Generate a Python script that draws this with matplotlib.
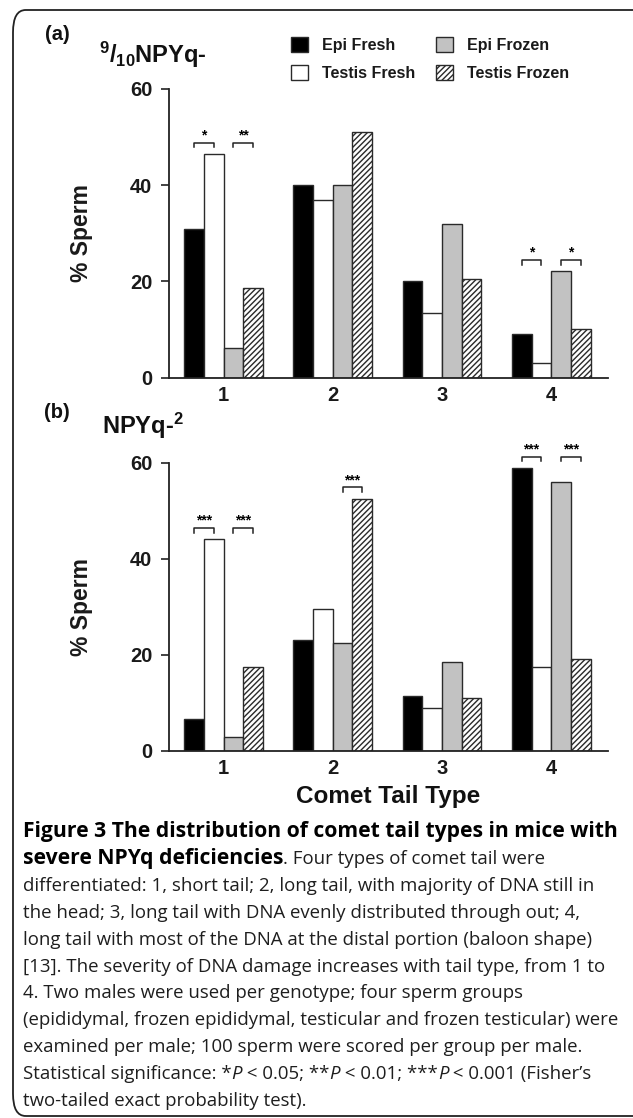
import matplotlib
matplotlib.use('Agg')
import matplotlib.pyplot as plt
from matplotlib.patches import FancyBboxPatch
from matplotlib.font_manager import FontProperties

# ---------------- data ----------------
tail_types = [1, 2, 3, 4]
tick_labels = ['1', '2', '3', '4']
series_names = ['Epi Fresh', 'Testis Fresh', 'Epi Frozen', 'Testis Frozen']
yticks = [0, 20, 40, 60]

a_epi_fresh = [31.0, 40.0, 20.0, 9.1]
a_testis_fresh = [46.5, 37.0, 13.5, 3.0]
a_epi_frozen = [6.1, 40.0, 32.0, 22.1]
a_testis_frozen = [18.6, 51.1, 20.6, 10.1]

b_epi_fresh = [6.6, 23.1, 11.5, 59.0]
b_testis_fresh = [44.1, 29.5, 8.9, 17.4]
b_epi_frozen = [3.0, 22.4, 18.5, 56.1]
b_testis_frozen = [17.4, 52.6, 11.0, 19.1]

# significance: (tail type, pair: 0 = epi vs testis fresh, 1 = epi vs testis frozen, stars)
a_sig = [(1, 0, '*'), (1, 1, '**'), (4, 0, '*'), (4, 1, '*')]
b_sig = [(1, 0, '***'), (1, 1, '***'), (2, 1, '***'), (4, 0, '***'), (4, 1, '***')]

# ---------------- style ----------------
W, H = 633, 1118
plt.rcParams['hatch.linewidth'] = 1.0
plt.rcParams['mathtext.fontset'] = 'custom'
plt.rcParams['mathtext.rm'] = 'Liberation Sans:bold'
plt.rcParams['mathtext.bf'] = 'Liberation Sans:bold'
plt.rcParams['mathtext.it'] = 'Liberation Sans:bold'
CF = 'Liberation Sans'
fills = ['black', 'white', '#c2c2c2', 'white']
hatches = [None, None, None, '//////']
edge = '#2a2a2a'
bar_w = 0.18

fig = plt.figure(figsize=(W / 100, H / 100), dpi=100)


def rect(l, t, r, b):
    return [l / W, 1 - b / H, (r - l) / W, (b - t) / H]


# border frame
frame = FancyBboxPatch((13 / W, 2 / H), 700 / W, 1106 / H,
                       boxstyle='round,pad=0,rounding_size=0.02',
                       transform=fig.transFigure, facecolor='none',
                       edgecolor='#222222', linewidth=1.3, clip_on=False)
fig.patches.append(frame)


def panel(box, series, sig, title, plabel, title_xy, plabel_xy):
    ax = fig.add_axes(rect(*box))
    containers = []
    for i, vals in enumerate(series):
        xs = [t + (i - 1.5) * bar_w for t in tail_types]
        c = ax.bar(xs, vals, width=bar_w, color=fills[i], hatch=hatches[i],
                   edgecolor=edge, linewidth=1.0, label=series_names[i], zorder=2)
        containers.append(c)
    ax.set_xlim(0.5, 4.52)
    ax.set_ylim(0, 60)
    ax.set_yticks(yticks)
    ax.set_xticks(tail_types)
    ax.set_xticklabels(tick_labels)
    for s in ['top', 'right']:
        ax.spines[s].set_visible(False)
    for s in ['left', 'bottom']:
        ax.spines[s].set_linewidth(1.3)
        ax.spines[s].set_color('#222222')
    ax.tick_params(axis='y', direction='out', length=6, width=1.2, pad=6,
                   labelsize=14.5, color='#222222')
    ax.tick_params(axis='x', length=0, pad=6, labelsize=14.5)
    for lab in ax.get_xticklabels() + ax.get_yticklabels():
        lab.set_fontweight('bold')
        lab.set_family(CF)
        lab.set_color('#1a1a1a')
    ax.set_ylabel('% Sperm', fontsize=16.5, fontweight='bold', family=CF, color='#1a1a1a')
    ax.yaxis.set_label_coords(-0.173, 0.5)
    # significance brackets
    for t, p, stars in sig:
        gi = tail_types.index(t)
        level = max(s[gi] for s in series) + 2.3
        x1 = t + (2 * p - 1.5) * bar_w
        x2 = x1 + bar_w
        ax.plot([x1, x1, x2, x2], [level - 0.9, level, level, level - 0.9],
                color='#222222', lw=1.1, clip_on=False, zorder=3)
        ax.text((x1 + x2) / 2, level + 0.1, stars, ha='center', va='bottom',
                fontsize=10, fontweight='bold', family=CF, clip_on=False)
    fig.text(title_xy[0] / W, 1 - title_xy[1] / H, title, fontsize=17,
             fontweight='bold', family=CF, ha='left', va='baseline', color='#111111')
    fig.text(plabel_xy[0] / W, 1 - plabel_xy[1] / H, plabel, fontsize=14.5,
             fontweight='bold', family=CF, ha='center', va='center', color='#111111')
    return ax, containers


ax_a, cont_a = panel((169, 89, 608, 377.7),
                     [a_epi_fresh, a_testis_fresh, a_epi_frozen, a_testis_frozen],
                     a_sig, r'$^{9}/_{10}$NPYq-', '(a)', (99, 63), (57, 35))
ax_b, cont_b = panel((169, 463, 608, 751),
                     [b_epi_fresh, b_testis_fresh, b_epi_frozen, b_testis_frozen],
                     b_sig, r'NPYq-$^{2}$', '(b)', (102, 434), (57, 412))

leg = ax_a.legend(handles=cont_a, ncol=2, loc='upper left',
                  bbox_to_anchor=(291 / W, 1 - 37 / H), bbox_transform=fig.transFigure,
                  frameon=False, borderpad=0, borderaxespad=0, handlelength=1.05,
                  handleheight=1.05, handletextpad=0.9, columnspacing=1.3,
                  labelspacing=0.75, prop=FontProperties(family=CF, weight='bold', size=11.5))
for t in leg.get_texts():
    t.set_color('#1a1a1a')

fig.text(388 / W, 1 - 797 / H, 'Comet Tail Type', fontsize=17.5, fontweight='bold',
         family=CF, ha='center', va='center', color='#111111')

# ---------------- caption ----------------
CAP = 'Open Sans'
renderer = fig.canvas.get_renderer()


def text_w(s, size, weight='normal', style='normal'):
    fp = FontProperties(family=CAP, size=size, weight=weight, style=style)
    w_bar = renderer.get_text_width_height_descent('|', fp, ismath=False)[0]
    w = renderer.get_text_width_height_descent('|' + s + '|', fp, ismath=False)[0]
    return w - 2 * w_bar


ref_line = '(epididymal, frozen epididymal, testicular and frozen testicular) were'
bold_line = 'Figure 3 The distribution of comet tail types in mice with'
cap_size = 10.0 * 594.0 / text_w(ref_line, 10.0)
bold_size = 10.0 * 597.0 / text_w(bold_line, 10.0, 'bold')

B, N, I = ('bold', 'normal'), ('normal', 'normal'), ('normal', 'italic')
caption = [
    [(bold_line, B)],
    [('severe NPYq deficiencies', B), ('. Four types of comet tail were', N)],
    [('differentiated: 1, short tail; 2, long tail, with majority of DNA still in', N)],
    [('the head; 3, long tail with DNA evenly distributed through out; 4,', N)],
    [('long tail with most of the DNA at the distal portion (baloon shape)', N)],
    [('[13]. The severity of DNA damage increases with tail type, from 1 to', N)],
    [('4. Two males were used per genotype; four sperm groups', N)],
    [(ref_line, N)],
    [('examined per male; 100 sperm were scored per group per male.', N)],
    [('Statistical significance: *', N), ('P', I), (' < 0.05; **', N), ('P', I),
     (' < 0.01; ***', N), ('P', I), (' < 0.001 (Fisher\u2019s', N)],
    [('two-tailed exact probability test).', N)],
]

y0, dy = 837, 26.9
for k, segs in enumerate(caption):
    x = 23.0
    y = y0 + k * dy
    for s, (wt, st) in segs:
        size = bold_size if wt == 'bold' else cap_size
        fig.text(x / W, 1 - y / H, s, fontsize=size, fontweight=wt, style=st,
                 family=CAP, ha='left', va='baseline',
                 color='#000000' if wt == 'bold' else '#1e1e1e')
        x += text_w(s, size, wt, st)

fig.savefig('out.png', dpi=100)
